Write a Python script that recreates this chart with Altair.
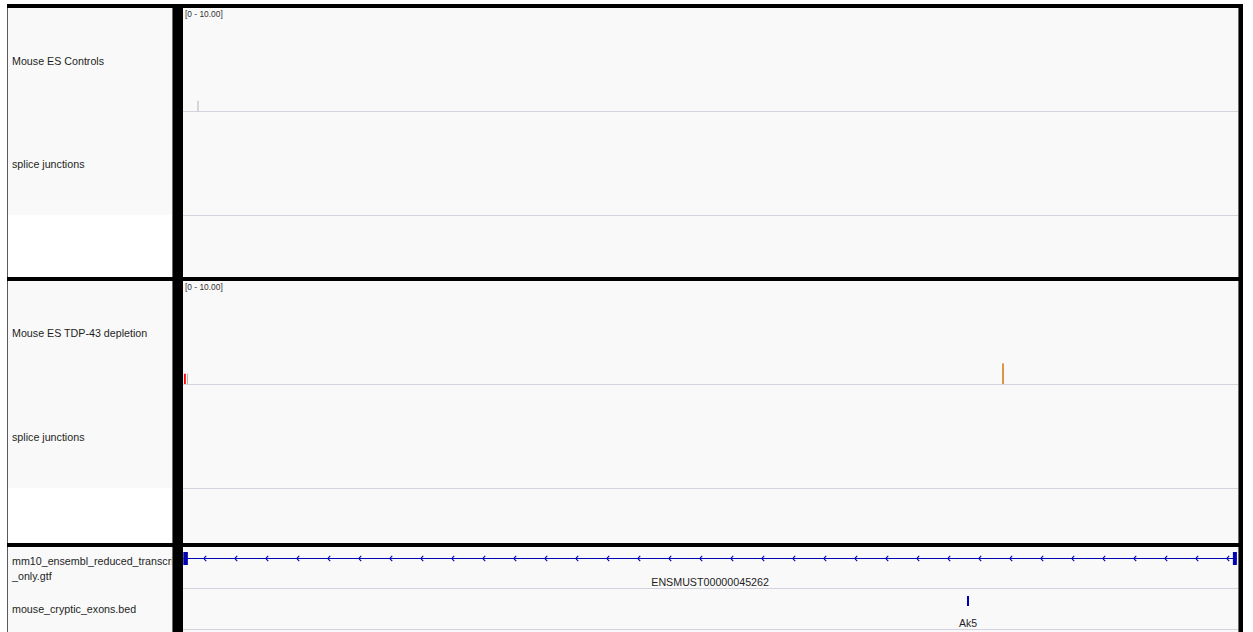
import altair as alt
import pandas as pd

# ---- locus on screen (mm10 chr3, Ak5) ----
VIEW_START = 152_462_500
VIEW_END = 152_668_500
DATA_RANGE = [0, 10]

# ---- coverage: Mouse ES Controls ----
ctrl_start = [152_465_330]
ctrl_end = [152_465_530]
ctrl_depth = [1]
ctrl_color = ["#b4b4b4"]

# ---- coverage: Mouse ES TDP-43 depletion ----
tdp_start = [152_462_700, 152_463_280, 152_622_420]
tdp_end = [152_463_050, 152_463_470, 152_622_810]
tdp_depth = [1, 1, 2]
tdp_color = ["#ff0000", "#b4b4b4", "#d9954a"]

# ---- transcript (minus strand) ----
tx_name = ["ENSMUST00000045262"]
tx_start = [152_462_560]
tx_end = [152_668_280]
exon_start = [152_462_560, 152_667_500]
exon_end = [152_463_450, 152_668_280]

# ---- cryptic exon bed ----
cry_name = ["Ak5"]
cry_start = [152_615_580]
cry_end = [152_615_970]

# ---- track names ----
track_names = [
    "Mouse ES Controls",
    "splice junctions",
    "Mouse ES TDP-43 depletion",
    "splice junctions",
    "mm10_ensembl_reduced_transcript",
    "_only.gtf",
    "mouse_cryptic_exons.bed",
]
range_label = "[0 - 10.00]"

# ---- layout (pixels) ----
W, H = 1253, 632
NX0, NX1 = 8, 172          # name panel
DX0, DX1 = 183, 1238       # data panel
FONT = "Liberation Sans, Arial, Helvetica, sans-serif"
BG = "#f9f9f9"
LINE = "#d3d3df"
BLUE = "#0000b2"

one = alt.Data(values=[{}])

XS = alt.Scale(domain=[VIEW_START, VIEW_END], range=[DX0, DX1])


def box(x0, x1, y0, y1, color):
    return alt.Chart(one).mark_rect(color=color).encode(
        x=alt.value(x0), x2=alt.value(x1), y=alt.value(y0), y2=alt.value(y1))


def hline(x0, x1, y, color, w=1):
    return alt.Chart(one).mark_rule(color=color, strokeWidth=w).encode(
        x=alt.value(x0), x2=alt.value(x1), y=alt.value(y))


def label(text, x, y, size=10.7, color="#1e1e1e", align="left"):
    return alt.Chart(one).mark_text(
        text=text, align=align, baseline="alphabetic", font=FONT,
        fontSize=size, color=color).encode(x=alt.value(x), y=alt.value(y))


def coverage(starts, ends, depth, colors, top, bottom):
    df = pd.DataFrame({"start": starts, "end": ends, "depth": depth, "c": colors})
    return alt.Chart(df).mark_rect().encode(
        x=alt.X("start:Q", scale=XS, axis=None),
        x2="end:Q",
        y=alt.Y("depth:Q", scale=alt.Scale(domain=DATA_RANGE, range=[bottom, top]), axis=None),
        y2=alt.datum(0),
        color=alt.Color("c:N", scale=None),
    )


layers = []

# panel backgrounds
for y0, y1, ny1 in [(8, 277, 215), (281, 543, 488), (547, 632, 632)]:
    layers.append(box(NX0, NX1, y0, ny1, BG))
    layers.append(box(DX0, DX1, y0, y1, BG))

# track separators in the data panel
for y in [111.5, 215.5, 384.5, 488.5, 588.5, 629.5]:
    layers.append(hline(DX0, DX1, y, LINE))

# track names
for text, y in zip(track_names, [65, 168, 337, 441, 565, 580, 613]):
    layers.append(label(text, 12, y))

# data range labels
layers.append(label(range_label, 185, 17, size=8.4, color="#333333"))
layers.append(label(range_label, 185, 290, size=8.4, color="#333333"))

# coverage bars
layers.append(coverage(ctrl_start, ctrl_end, ctrl_depth, ctrl_color, 8, 111))
layers.append(coverage(tdp_start, tdp_end, tdp_depth, tdp_color, 281, 384))

# transcript: intron line, strand chevrons, exons, name
tx = pd.DataFrame({"start": tx_start, "end": tx_end, "name": tx_name})
tx["mid"] = (tx["start"] + tx["end"]) / 2
layers.append(alt.Chart(tx).mark_rule(color=BLUE, strokeWidth=1.2).encode(
    x=alt.X("start:Q", scale=XS, axis=None), x2="end:Q", y=alt.value(558.5)))

step = 6053
chev = pd.DataFrame({"pos": list(range(152_466_800, tx_end[0] - 1000, step))})
layers.append(alt.Chart(chev).mark_point(
    shape="M0.45,-1L-0.45,0L0.45,1", filled=False, color=BLUE, strokeWidth=1.1,
    size=30, opacity=1).encode(
    x=alt.X("pos:Q", scale=XS, axis=None), y=alt.value(558.5)))

ex = pd.DataFrame({"start": exon_start, "end": exon_end})
layers.append(alt.Chart(ex).mark_rect(color=BLUE).encode(
    x=alt.X("start:Q", scale=XS, axis=None), x2="end:Q",
    y=alt.value(552), y2=alt.value(565)))

layers.append(alt.Chart(tx).mark_text(
    font=FONT, fontSize=10.7, color="#1e1e1e", baseline="alphabetic").encode(
    x=alt.X("mid:Q", scale=XS, axis=None), y=alt.value(585.5), text="name:N"))

# cryptic exon feature
cry = pd.DataFrame({"start": cry_start, "end": cry_end, "name": cry_name})
cry["mid"] = (cry["start"] + cry["end"]) / 2
layers.append(alt.Chart(cry).mark_rect(color=BLUE).encode(
    x=alt.X("start:Q", scale=XS, axis=None), x2="end:Q",
    y=alt.value(596), y2=alt.value(606)))
layers.append(alt.Chart(cry).mark_text(
    font=FONT, fontSize=10.5, color="#1e1e1e", baseline="alphabetic").encode(
    x=alt.X("mid:Q", scale=XS, axis=None), y=alt.value(627), text="name:N"))

# frame: borders and dividers
layers.append(box(7, 8, 8, 632, "#5a5a5a"))
layers.append(box(NX1, NX1 + 1, 8, 632, "#6a6a6a"))
layers.append(box(NX1 + 1, DX0, 4, 632, "#000000"))
layers.append(box(DX1, DX1 + 1, 8, 632, "#6a6a6a"))
layers.append(box(DX1 + 1, DX1 + 5, 4, 632, "#000000"))
layers.append(box(7, DX1 + 5, 4, 8, "#000000"))
layers.append(box(7, DX1 + 5, 277, 281, "#000000"))
layers.append(box(7, DX1 + 5, 543, 547, "#000000"))

chart = alt.layer(*layers).resolve_scale(y="independent").properties(
    width=W, height=H, padding=0,
    autosize=alt.AutoSizeParams(type="none"),
    background="white",
).configure_view(stroke=None, fill=None)

chart.save("out.html", embed_options={"renderer": "svg", "actions": False})
